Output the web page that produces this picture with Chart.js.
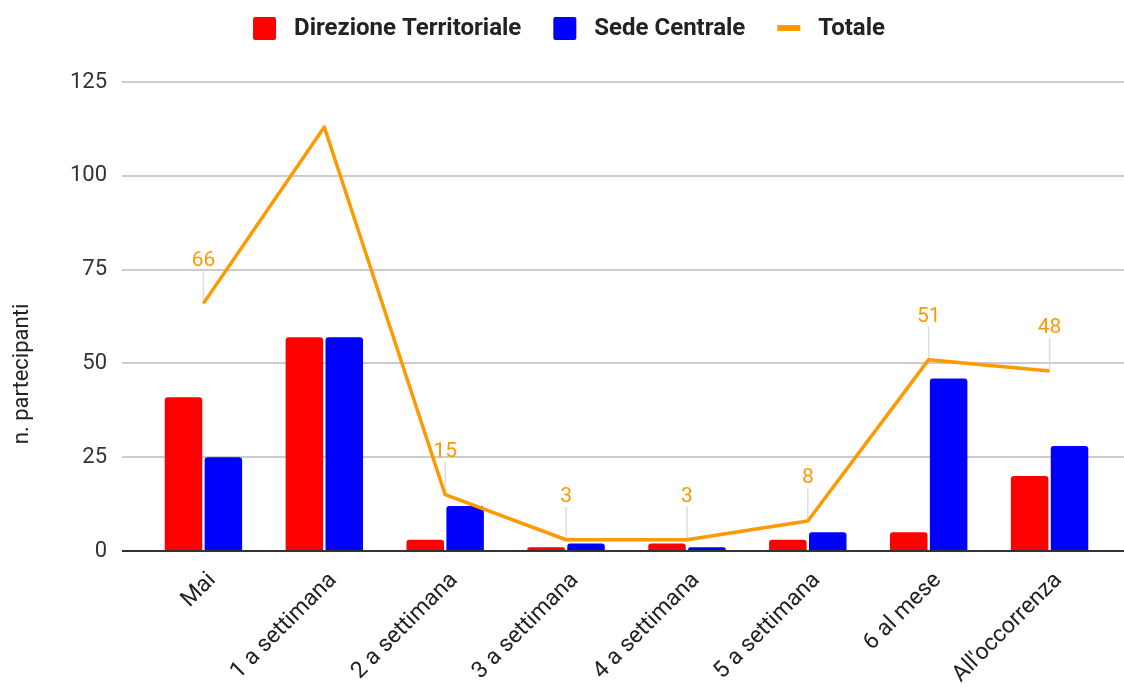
<!DOCTYPE html>
<html>
<head>
<meta charset="utf-8">
<script src="https://cdn.jsdelivr.net/npm/chart.js@4.4.0/dist/chart.umd.min.js"></script>
<style>
  html, body { margin: 0; padding: 0; background: #ffffff; }
  #wrap { width: 1124px; height: 687px; }
</style>
</head>
<body>
<div id="wrap"><canvas id="chart" width="1124" height="687"></canvas></div>
<script>
// Frequency categories
const categories = ['Mai', '1 a settimana', '2 a settimana', '3 a settimana', '4 a settimana', '5 a settimana', '6 al mese', "All'occorrenza"];
// Participants per group
const direzioneTerritoriale = [41, 57, 3, 1, 2, 3, 5, 20];
const sedeCentrale = [25, 57, 12, 2, 1, 5, 46, 28];
const totale = [66, 113, 15, 3, 3, 8, 51, 48];
// Which total values carry an annotation
const totaleLabelShown = [true, false, true, true, true, true, true, true];
const yTicks = [0, 25, 50, 75, 100, 125];
const seriesNames = ['Direzione Territoriale', 'Sede Centrale', 'Totale'];
const yTitle = 'n. partecipanti';

const FONT = 'Roboto, "Noto Sans", sans-serif';
const COLORS = { dt: '#ff0000', sc: '#0000ff', tot: '#ff9900' };

// Horizontal gridlines spanning the full width, plus annotation leaders
const gridPlugin = {
  id: 'fullGrid',
  beforeDatasetsDraw(chart) {
    const { ctx } = chart;
    const y = chart.scales.y;
    ctx.save();
    ctx.strokeStyle = '#cccccc';
    ctx.lineWidth = 2;
    yTicks.forEach(v => {
      if (v === 0) return;
      const py = Math.round(y.getPixelForValue(v));
      ctx.beginPath();
      ctx.moveTo(122, py);
      ctx.lineTo(chart.width, py);
      ctx.stroke();
    });
    // leader lines from the total points to their labels
    const meta = chart.getDatasetMeta(2);
    ctx.strokeStyle = '#dddddd';
    ctx.lineWidth = 1.5;
    meta.data.forEach((pt, i) => {
      if (!totaleLabelShown[i]) return;
      ctx.beginPath();
      ctx.moveTo(pt.x, pt.y - 33);
      ctx.lineTo(pt.x, pt.y);
      ctx.stroke();
    });
    ctx.restore();
  },
  afterDatasetsDraw(chart) {
    const { ctx } = chart;
    const y = chart.scales.y;
    ctx.save();
    // baseline
    const py = Math.round(y.getPixelForValue(0));
    ctx.strokeStyle = '#333333';
    ctx.lineWidth = 2;
    ctx.beginPath();
    ctx.moveTo(122, py);
    ctx.lineTo(chart.width, py);
    ctx.stroke();
    // total value labels
    const meta = chart.getDatasetMeta(2);
    ctx.font = '21px ' + FONT;
    ctx.fillStyle = COLORS.tot;
    ctx.textAlign = 'center';
    ctx.textBaseline = 'middle';
    meta.data.forEach((pt, i) => {
      if (!totaleLabelShown[i]) return;
      ctx.fillText(String(totale[i]), pt.x, pt.y - 43);
    });
    ctx.restore();
  }
};

// Legend row and rotated axis title
const decorPlugin = {
  id: 'decor',
  afterDraw(chart) {
    const { ctx } = chart;
    ctx.save();
    ctx.font = 'bold 24px ' + FONT;
    const box = 23, gapText = 18, gapItem = 32;
    const colors = [COLORS.dt, COLORS.sc, COLORS.tot];
    const widths = seriesNames.map(t => ctx.measureText(t).width);
    const total = widths.reduce((a, w) => a + box + gapText + w, 0) + gapItem * (seriesNames.length - 1);
    let x = 569 - total / 2;
    const cy = 28;
    seriesNames.forEach((name, i) => {
      ctx.fillStyle = colors[i];
      if (i < 2) {
        ctx.beginPath();
        ctx.roundRect(x, cy - 11, box, 23, 2);
        ctx.fill();
      } else {
        ctx.fillRect(x, cy - 3, box, 6);
      }
      ctx.fillStyle = '#222222';
      ctx.textAlign = 'left';
      ctx.textBaseline = 'middle';
      ctx.fillText(name, x + box + gapText, cy + 1);
      x += box + gapText + widths[i] + gapItem;
    });
    // y axis title
    ctx.translate(22, 374);
    ctx.rotate(-Math.PI / 2);
    ctx.font = '22px ' + FONT;
    ctx.fillStyle = '#222222';
    ctx.textAlign = 'center';
    ctx.textBaseline = 'middle';
    ctx.fillText(yTitle, 0, 0);
    ctx.restore();
  }
};

new Chart(document.getElementById('chart'), {
  data: {
    labels: categories,
    datasets: [
      {
        type: 'bar', label: seriesNames[0], data: direzioneTerritoriale,
        backgroundColor: COLORS.dt, borderRadius: { topLeft: 3, topRight: 3 }, borderSkipped: 'bottom',
        categoryPercentage: 0.66, barPercentage: 0.94, order: 2
      },
      {
        type: 'bar', label: seriesNames[1], data: sedeCentrale,
        backgroundColor: COLORS.sc, borderRadius: { topLeft: 3, topRight: 3 }, borderSkipped: 'bottom',
        categoryPercentage: 0.66, barPercentage: 0.94, order: 2
      },
      {
        type: 'line', label: seriesNames[2], data: totale,
        borderColor: COLORS.tot, backgroundColor: COLORS.tot, borderWidth: 3.5,
        pointRadius: 0, tension: 0, borderJoinStyle: 'round', order: 0
      }
    ]
  },
  options: {
    responsive: false,
    devicePixelRatio: 1,
    animation: false,
    layout: { padding: { top: 82, right: 14, bottom: 0, left: 0 } },
    plugins: { legend: { display: false }, tooltip: { enabled: false }, title: { display: false } },
    scales: {
      x: {
        type: 'category', offset: true,
        grid: { display: false, drawTicks: false },
        border: { display: false },
        ticks: { font: { family: FONT, size: 23 }, color: '#222222', minRotation: 45, maxRotation: 45, autoSkip: false, padding: 16, labelOffset: 9 },
        afterFit(s) { s.height = 136; }
      },
      y: {
        min: 0, max: 125,
        afterBuildTicks(s) { s.ticks = yTicks.map(v => ({ value: v })); },
        grid: { display: false, drawTicks: false },
        border: { display: false },
        ticks: { font: { family: FONT, size: 22 }, color: '#333333', padding: 36 },
        afterFit(s) { s.width = 143; }
      }
    }
  },
  plugins: [gridPlugin, decorPlugin]
});
</script>
</body>
</html>
